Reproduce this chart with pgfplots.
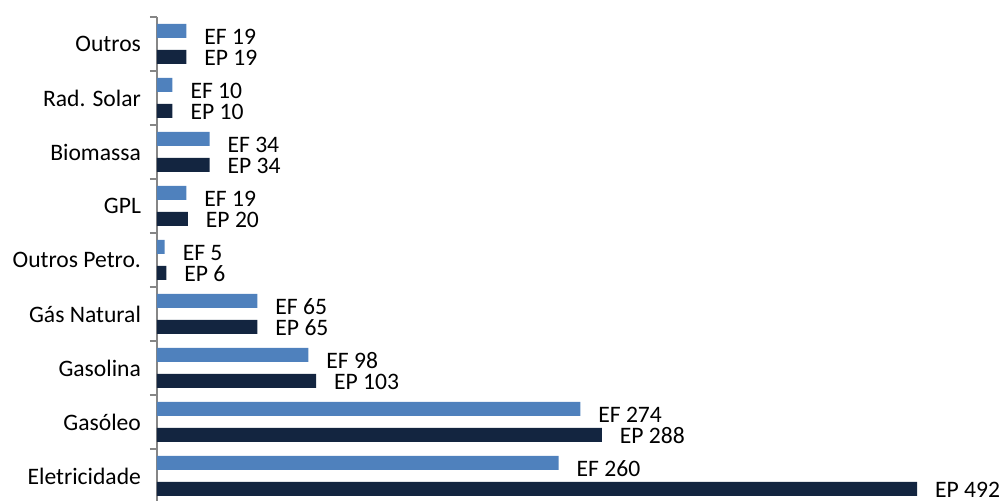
\documentclass[border=0pt]{standalone}
\usepackage{pgfplots}
\pgfplotsset{compat=1.18}
\usepackage{fontspec}
\setmainfont{Carlito}
\definecolor{ef}{HTML}{4F81BD}
\definecolor{ep}{HTML}{132540}
\definecolor{axgray}{HTML}{868686}
\begin{document}
\begin{tikzpicture}
\path[use as bounding box] (0pt,0pt) rectangle (500.5pt,-250.5pt);
\begin{axis}[
 at={(78.5pt,-8.5pt)}, anchor=north west,
 scale only axis, width=380pt, height=243pt,
 xmin=0, xmax=492, ymin=-0.5, ymax=8.5,
 axis x line=none, axis y line*=left,
 axis line style={axgray, line width=0.6pt},
 ytick={0,1,2,3,4,5,6,7,8},
 yticklabels={Eletricidade,Gasóleo,Gasolina,Gás Natural,Outros Petro.,GPL,Biomassa,Rad. Solar,Outros},
 major tick length=0pt,
 minor ytick={-0.5,0.5,1.5,2.5,3.5,4.5,5.5,6.5,7.5,8.5},
 minor tick length=3.5pt,
 tick align=outside,
 y tick style={axgray, line width=0.6pt},
 yticklabel style={font=\fontsize{11.8}{14}\selectfont, xshift=-4.5pt},
 /pgf/number format/assume math mode=true,
 xbar, bar width=7pt,
 clip=false,
 every node near coord/.append style={font=\fontsize{11.8}{14}\selectfont, anchor=west, xshift=5.5pt, black},
]
\addplot[fill=ef, draw=none, bar shift=6.5pt,
  nodes near coords={EF \pgfmathprintnumber[assume math mode=true]{\pgfplotspointmeta}},
  every node near coord/.append style={yshift=-3pt}]
 coordinates {(260,0) (274,1) (98,2) (65,3) (5,4) (19,5) (34,6) (10,7) (19,8)};
\addplot[fill=ep, draw=none, bar shift=-6.5pt,
  nodes near coords={EP \pgfmathprintnumber[assume math mode=true]{\pgfplotspointmeta}},
  every node near coord/.append style={yshift=-0.5pt}]
 coordinates {(492,0) (288,1) (103,2) (65,3) (6,4) (20,5) (34,6) (10,7) (19,8)};
\end{axis}
\end{tikzpicture}
\end{document}
